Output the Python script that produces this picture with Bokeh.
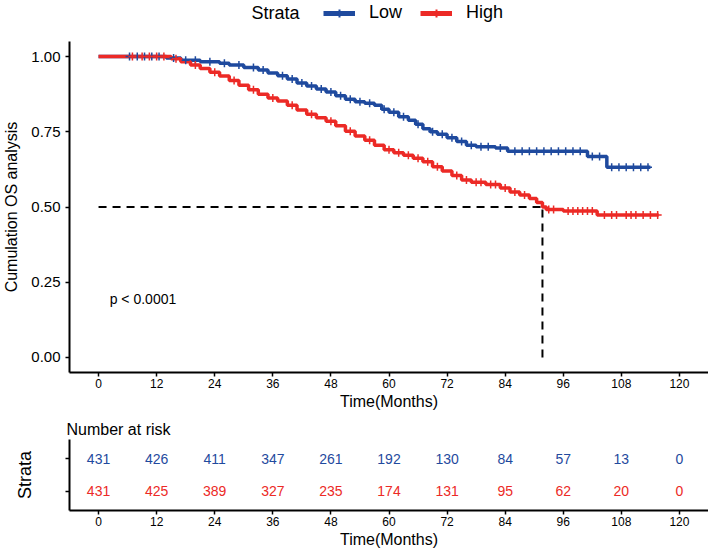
import numpy as np
from bokeh.plotting import figure
from bokeh.models import Range1d, FixedTicker, Legend, LegendItem, Label, ColumnDataSource
from bokeh.layouts import column
from bokeh.embed import file_html
from bokeh.resources import INLINE
from bokeh.core.properties import value

FONT = "Liberation Sans"
BLUE = "#1F4A9E"
RED = "#EC2A26"

# ---------------- data ----------------
strata = ["Low", "High"]
legend_title = "Strata"
time_ticks = [0, 12, 24, 36, 48, 60, 72, 84, 96, 108, 120]
surv_ticks = [0.0, 0.25, 0.5, 0.75, 1.0]

low_times = [0, 14, 17, 21, 25, 27, 30, 33, 35, 37, 39, 41, 43, 45, 47, 49, 51, 53, 55,
             57, 58.5, 60, 62, 64, 65.5, 67, 68.5, 70, 72, 74, 76, 78, 82, 84.5, 101, 105]
low_surv = [1.0, 0.995, 0.988, 0.983, 0.978, 0.972, 0.964, 0.955, 0.945, 0.936, 0.925,
            0.912, 0.902, 0.892, 0.882, 0.870, 0.858, 0.850, 0.845, 0.838, 0.825, 0.815,
            0.800, 0.788, 0.775, 0.760, 0.750, 0.742, 0.730, 0.718, 0.705, 0.700, 0.696,
            0.685, 0.668, 0.632]
low_end = 114.0
low_censor = [6.4, 8, 9.5, 11, 12.5, 15.5, 18, 20, 23, 26, 29, 32, 34, 38, 40, 42, 44,
              46, 48, 50, 52, 54, 56, 59, 61, 63, 66, 69, 71, 73, 75, 77, 79, 80.5, 83,
              86, 87.5, 89, 90.5, 92, 93.5, 95, 96.5, 98, 99.5, 102, 103.5, 106, 107.5,
              109, 110.5, 112, 113.5]

high_times = [0, 15, 17, 19, 21, 23, 25, 27, 29, 31, 33, 35, 37, 39, 41, 43, 45, 47, 49,
              51, 53, 55, 57, 59, 61, 63, 65, 67, 69, 71, 73, 75, 77, 80, 83, 85, 87, 89,
              90.5, 91.7, 92.5, 96, 103]
high_surv = [1.0, 0.993, 0.983, 0.972, 0.960, 0.948, 0.935, 0.920, 0.905, 0.890, 0.875,
             0.862, 0.852, 0.838, 0.822, 0.808, 0.797, 0.785, 0.770, 0.752, 0.736, 0.722,
             0.705, 0.690, 0.680, 0.672, 0.662, 0.650, 0.634, 0.620, 0.605, 0.590, 0.582,
             0.575, 0.563, 0.550, 0.540, 0.528, 0.515, 0.500, 0.492, 0.487, 0.473]
high_end = 115.7
high_censor = [7, 9, 10.5, 12, 13.5, 16, 20, 24, 28, 32, 36, 40, 44, 48, 52, 56, 60, 62,
               64, 66, 68, 70, 74, 76, 78, 79, 81, 82, 84, 86, 88, 93, 94, 97, 98, 99,
               100, 101, 102, 104.5, 106, 107, 109, 110, 111, 112.5, 114, 115.5]

median_high = 91.7
p_text = "p < 0.0001"

risk_low = [431, 426, 411, 347, 261, 192, 130, 84, 57, 13, 0]
risk_high = [431, 425, 389, 327, 235, 174, 131, 95, 62, 20, 0]


def step_xy(times, surv, end):
    return list(times) + [end], list(surv) + [surv[-1]]


def surv_at(times, surv, t):
    idx = np.searchsorted(np.asarray(times), np.asarray(t), side="right") - 1
    return list(np.asarray(surv)[idx])


def style_axes(p):
    for ax in (p.xaxis[0], p.yaxis[0]):
        ax.axis_line_width = 2
        ax.axis_line_color = "black"
        ax.major_tick_line_width = 1.5
        ax.major_tick_line_color = "black"
        ax.major_tick_out = 4
        ax.major_tick_in = 0
        ax.minor_tick_line_color = None
        ax.major_label_text_font = FONT
        ax.major_label_text_color = "black"
        ax.axis_label_text_font = FONT
        ax.axis_label_text_font_style = "normal"
        ax.axis_label_text_color = "black"


LINE_W = 3.5
CROSS_SIZE = 8
X_RANGE = (-6, 126)

# ---------------- legend strip ----------------
p0 = figure(width=708, height=28, x_range=Range1d(*X_RANGE), y_range=Range1d(0, 28),
            output_backend="svg", toolbar_location=None,
            x_axis_location=None, y_axis_location=None,
            min_border_left=0, min_border_right=0, min_border_top=0, min_border_bottom=0)
p0.grid.visible = False
p0.outline_line_color = None
p0.text(x=[31.6], y=[16], text=[legend_title], text_font=value(FONT), text_font_size="18px",
        text_baseline="middle", text_align="left", text_color="black")
# proxy renderers (kept off-screen) so the legend can draw its keys
k_low_l = p0.line([-50, -40], [-50, -50], line_color=BLUE, line_width=LINE_W + 1.5)
k_low_c = p0.scatter([-50], [-50], marker="cross", size=12, line_color=BLUE, line_width=2)
k_high_l = p0.line([-50, -40], [-50, -50], line_color=RED, line_width=LINE_W + 1.5)
k_high_c = p0.scatter([-50], [-50], marker="cross", size=12, line_color=RED, line_width=2)
legend = Legend(items=[LegendItem(label=strata[0], renderers=[k_low_l, k_low_c]),
                       LegendItem(label=strata[1], renderers=[k_high_l, k_high_c])],
                orientation="horizontal")
legend.label_text_font = FONT
legend.label_text_font_size = "18px"
legend.label_text_color = "black"
legend.glyph_width = 32
legend.glyph_height = 20
legend.label_height = 20
legend.label_standoff = 14
legend.spacing = 18
legend.padding = 0
legend.margin = 0
legend.border_line_alpha = 0
legend.background_fill_alpha = 0
legend.location = (254, 5)
p0.add_layout(legend)

# ---------------- main KM plot ----------------
p = figure(width=708, height=386, x_range=Range1d(*X_RANGE), y_range=Range1d(-0.05, 1.05),
           output_backend="svg", toolbar_location=None,
           min_border_left=68, min_border_right=0, min_border_top=13, min_border_bottom=42)
p.outline_line_color = None
p.grid.visible = False
p.background_fill_color = "white"
style_axes(p)

p.xaxis.ticker = FixedTicker(ticks=time_ticks)
p.yaxis.ticker = FixedTicker(ticks=surv_ticks)
p.yaxis.major_label_overrides = {t: f"{t:.2f}" for t in surv_ticks}
p.xaxis.major_label_text_font_size = "12px"
p.yaxis.major_label_text_font_size = "15px"
p.xaxis.major_label_standoff = 2
p.yaxis.major_label_standoff = 5
p.xaxis.axis_label = "Time(Months)"
p.yaxis.axis_label = "Cumulation OS analysis"
p.xaxis.axis_label_text_font_size = "16px"
p.yaxis.axis_label_text_font_size = "16px"
p.xaxis.axis_label_standoff = 2
p.yaxis.axis_label_standoff = 8

# median dashed lines
p.line([0, median_high], [0.5, 0.5], line_color="black", line_width=2, line_dash="8 6")
p.line([median_high, median_high], [0, 0.5], line_color="black", line_width=2, line_dash="8 6")

lx, ly = step_xy(low_times, low_surv, low_end)
hx, hy = step_xy(high_times, high_surv, high_end)

p.step(lx, ly, mode="after", line_color=BLUE, line_width=LINE_W)
p.step(hx, hy, mode="after", line_color=RED, line_width=LINE_W)
p.scatter(low_censor, surv_at(low_times, low_surv, low_censor), marker="cross",
          size=CROSS_SIZE, line_color=BLUE, line_width=1.5)
p.scatter(high_censor, surv_at(high_times, high_surv, high_censor), marker="cross",
          size=CROSS_SIZE, line_color=RED, line_width=1.5)

p.add_layout(Label(x=2.3, y=0.195, text=p_text, text_font=FONT, text_font_size="14px",
                   text_baseline="middle", text_align="left", text_color="black"))

# ---------------- risk table ----------------
p2 = figure(width=708, height=136, x_range=Range1d(*X_RANGE), y_range=Range1d(0.394, 2.606),
            output_backend="svg", toolbar_location=None, title="Number at risk",
            min_border_left=68, min_border_right=0, min_border_top=25, min_border_bottom=38)
p2.outline_line_color = None
p2.grid.visible = False
style_axes(p2)
p2.title.text_font = FONT
p2.title.text_font_size = "16px"
p2.title.text_font_style = "normal"
p2.title.text_color = "black"
p2.title.standoff = 4
p2.title.offset = -3

p2.xaxis.ticker = FixedTicker(ticks=time_ticks)
p2.xaxis.major_label_text_font_size = "12px"
p2.xaxis.major_label_standoff = 2
p2.xaxis.axis_label = "Time(Months)"
p2.xaxis.axis_label_text_font_size = "16px"
p2.xaxis.axis_label_standoff = 2
p2.yaxis.ticker = FixedTicker(ticks=[1, 2])
p2.yaxis.major_label_overrides = {1: "", 2: ""}
p2.yaxis.axis_label = "Strata"
p2.yaxis.axis_label_text_font_size = "18px"
p2.yaxis.axis_label_standoff = 31

src = ColumnDataSource(dict(
    x=time_ticks + time_ticks,
    y=[2] * len(time_ticks) + [1] * len(time_ticks),
    t=[str(v) for v in risk_low] + [str(v) for v in risk_high],
    c=[BLUE] * len(time_ticks) + [RED] * len(time_ticks),
))
p2.text(x="x", y="y", text="t", text_color="c", source=src, text_align="center",
        text_baseline="middle", text_font=value(FONT), text_font_size="14px")

p2.add_layout(Label(x=-6, y=2, x_offset=-7, text=strata[0], text_font=FONT,
                    text_font_size="13px", text_align="right", text_baseline="middle",
                    text_color=BLUE))
p2.add_layout(Label(x=-6, y=1, x_offset=-7, text=strata[1], text_font=FONT,
                    text_font_size="13px", text_align="right", text_baseline="middle",
                    text_color=RED))

layout = column(p0, p, p2, spacing=0)
open("out.html", "w").write(file_html(layout, INLINE))
